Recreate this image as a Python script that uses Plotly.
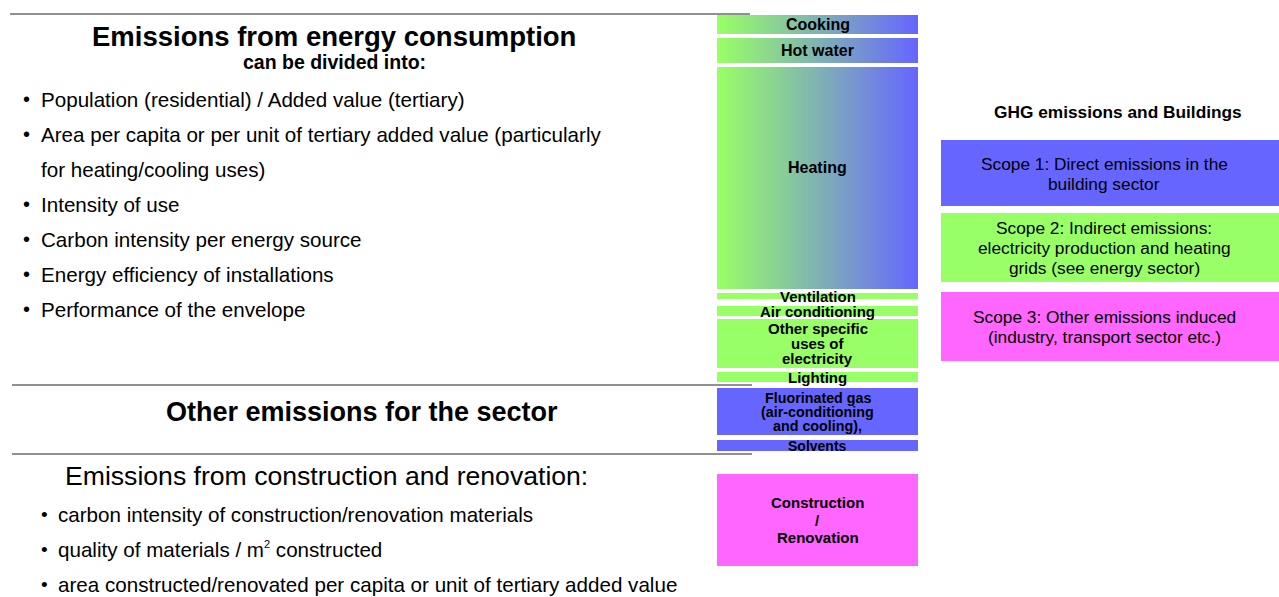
import numpy as np
import plotly.graph_objects as go

# ---------------- data ----------------
# Column of emission sources (diagram units, top -> bottom)
use_labels = [["Cooking"], ["Hot water"], ["Heating"], ["Ventilation"], ["Air conditioning"],
              ["Other specific", "uses of", "electricity"], ["Lighting"],
              ["Fluorinated gas", "(air-conditioning", "and cooling),"], ["Solvents"],
              ["Construction", "/", "Renovation"]]
use_start = [15, 38, 67, 293, 306, 319, 372, 388, 440, 474]
use_end = [34, 63, 289, 299, 316, 368, 382, 435, 451, 566]
use_scope = ["1+2", "1+2", "1+2", "2", "2", "2", "2", "1", "1", "3"]

# Scope boxes
scope_labels = [["Scope 1: Direct emissions in the", "building sector"],
                ["Scope 2: Indirect emissions:", "electricity production and heating",
                 "grids (see energy sector)"],
                ["Scope 3: Other emissions induced", "(industry, transport sector etc.)"]]
scope_start = [140, 213, 292]
scope_end = [206, 282, 361]

# Left-hand texts
energy_factors = [["Population (residential) / Added value (tertiary)"],
                  ["Area per capita or per unit of tertiary added value (particularly",
                   "for heating/cooling uses)"],
                  ["Intensity of use"],
                  ["Carbon intensity per energy source"],
                  ["Energy efficiency of installations"],
                  ["Performance of the envelope"]]
construction_factors = ["carbon intensity of construction/renovation materials",
                        "quality of materials / m<sup><span style='font-size:11px'>2</span></sup> constructed",
                        "area constructed/renovated per capita or unit of tertiary added value"]

# ---------------- styling ----------------
FONT = "Arial, 'Liberation Sans', sans-serif"
GREEN, BLUE, MAGENTA = "#99ff66", "#6666ff", "#ff66ff"
scope_color = {"1": BLUE, "2": GREEN, "3": MAGENTA}
COL_X0, COL_X1 = 717, 918
BOX_X0, BOX_X1 = 941, 1279

fig = go.Figure()
annotations = []


def txt(x, y, s, size, bold=False, anchor="center"):
    if bold:
        s = "<b>" + s + "</b>"
    annotations.append(dict(x=x, y=y, xref="x", yref="y", text=s, showarrow=False,
                            xanchor=anchor, yanchor="middle",
                            font=dict(family=FONT, size=size, color="black")))


# column blocks
label_size = {0: 16, 1: 16, 2: 16, 3: 15, 4: 15, 5: 15, 6: 15, 7: 14.3, 8: 14, 9: 15}
line_gap = {5: 15, 7: 14, 9: 17.5}
label_shift = {2: -11}
for i, (lab, s, e, sc) in enumerate(zip(use_labels, use_start, use_end, use_scope)):
    if sc == "1+2":
        n = 120
        xe = np.linspace(COL_X0, COL_X1, n + 1)
        fig.add_trace(go.Heatmap(x=xe, y=[s, e], z=[np.linspace(0, 1, n)],
                                 colorscale=[[0, GREEN], [1, BLUE]], showscale=False,
                                 zsmooth=False, hoverinfo="skip"))
    else:
        fig.add_trace(go.Bar(x=[(COL_X0 + COL_X1) / 2], y=[e - s], base=[s],
                             width=[COL_X1 - COL_X0], marker_color=scope_color[sc],
                             marker_line_width=0, hoverinfo="skip"))
    cy = (s + e) / 2 + label_shift.get(i, 0)
    g = line_gap.get(i, 15)
    for k, line in enumerate(lab):
        txt((COL_X0 + COL_X1) / 2, cy + (k - (len(lab) - 1) / 2) * g, line, label_size[i], bold=True)

# scope boxes
for i, (lab, s, e) in enumerate(zip(scope_labels, scope_start, scope_end)):
    fig.add_trace(go.Bar(x=[(BOX_X0 + BOX_X1) / 2], y=[e - s], base=[s],
                         width=[BOX_X1 - BOX_X0], marker_color=scope_color[str(i + 1)],
                         marker_line_width=0, hoverinfo="skip"))
    cy = (s + e) / 2 + 0.5
    for k, line in enumerate(lab):
        txt(1104, cy + (k - (len(lab) - 1) / 2) * 20, line, 17.3)

txt(1118, 112, "GHG emissions and Buildings", 17.3, bold=True)

# left texts
txt(334, 36, "Emissions from energy consumption", 27.5, bold=True)
txt(334, 62, "can be divided into:", 19.5, bold=True)
y = 99
for item in energy_factors:
    for k, line in enumerate(item):
        if k == 0:
            txt(26, y, "•", 20)
        txt(39, y, line, 20.6, anchor="left")
        y += 35

txt(362, 412, "Other emissions for the sector", 27, bold=True)
txt(326, 476, "Emissions from construction and renovation:", 26.6)
for k, line in enumerate(construction_factors):
    yy = 514 + 35 * k
    txt(44, yy, "•", 19)
    txt(56, yy, line, 20.6, anchor="left")

shapes = [
    dict(type="line", x0=10, x1=750, y0=14, y1=14, xref="x", yref="y", line=dict(color="#222", width=1)),
    dict(type="line", x0=12, x1=752, y0=385, y1=385, xref="x", yref="y", line=dict(color="#222", width=1)),
    dict(type="line", x0=12, x1=752, y0=454, y1=454, xref="x", yref="y", line=dict(color="#222", width=1)),
]

fig.update_layout(
    width=1279, height=597, margin=dict(l=0, r=0, t=0, b=0),
    paper_bgcolor="white", plot_bgcolor="white", showlegend=False,
    barmode="overlay",
    xaxis=dict(range=[0, 1279], visible=False, fixedrange=True),
    yaxis=dict(range=[597, 0], visible=False, fixedrange=True),
    annotations=annotations, shapes=shapes,
)

fig.write_html("out.html", config={"displayModeBar": False},
               post_script="document.body.style.margin='0';document.body.style.overflow='hidden';")
